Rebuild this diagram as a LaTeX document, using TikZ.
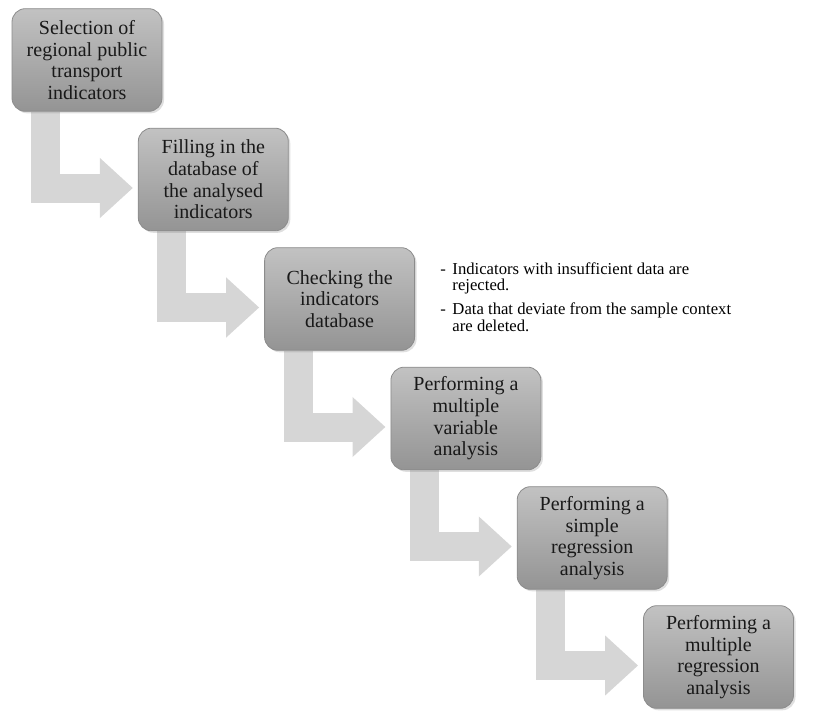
\documentclass[tikz,border=0pt]{standalone}
\usepackage{fontspec}
\setmainfont{Liberation Serif}
\usetikzlibrary{calc, positioning, arrows.meta, shadows, backgrounds}

\begin{document}
\begin{tikzpicture}[
    x=0.75pt, y=-0.75pt,
    font=\fontsize{15}{16.3}\selectfont
]

    % Rounded grey step boxes
    \tikzset{stage/.style={
        draw=black!45,
        line width=0.6pt,
        rounded corners=10pt,
        top color=black!24,
        bottom color=black!42,
        minimum width=112.5pt,
        minimum height=77pt,
        inner sep=2pt,
        align=center,
        text=black!90,
        drop shadow={opacity=0.25, shadow xshift=1.5pt, shadow yshift=-1.5pt}
    }}
    % Light bent block arrows between the steps
    \tikzset{flow/.style={
        draw=black!16,
        line width=21.75pt,
        -{Triangle[length=24.75pt, width=43.5pt]}
    }}

    \useasboundingbox (0,0) rectangle (815,711);

    % Steps, going down to the right
    \node[stage] (S1) at (87, 60)       {Selection of\\regional public\\transport\\indicators};
    \node[stage] (S2) at (213.3, 179.5) {Filling in the\\database of\\the analysed\\indicators};
    \node[stage] (S3) at (339.6, 299)   {Checking the\\indicators\\database};
    \node[stage] (S4) at (465.9, 418.5) {Performing a\\multiple\\variable\\analysis};
    \node[stage] (S5) at (592.2, 538)   {Performing a\\simple\\regression\\analysis};
    \node[stage] (S6) at (718.5, 657)   {Performing a\\multiple\\regression\\analysis};

    % Notes beside the checking step
    \node[anchor=north west, inner sep=0pt, font=\fontsize{12.5}{12.6}\selectfont] (notes) at (440, 262) {%
        \begin{tabular}{@{}l@{\hspace{5pt}}l@{}}
        - & Indicators with insufficient data are\\
          & rejected.\\[5pt]
        - & Data that deviate from the sample context\\
          & are deleted.
        \end{tabular}};

    % Bent arrows (behind the boxes)
    \begin{scope}[on background layer]
        \draw[flow] ($(S1.south west)+(34,0)$) |- ($(S2.west)+(-5,8.5)$);
        \draw[flow] ($(S2.south west)+(34,0)$) |- ($(S3.west)+(-5,8.5)$);
        \draw[flow] ($(S3.south west)+(34,0)$) |- ($(S4.west)+(-5,8.5)$);
        \draw[flow] ($(S4.south west)+(34,0)$) |- ($(S5.west)+(-5,8.5)$);
        \draw[flow] ($(S5.south west)+(34,0)$) |- ($(S6.west)+(-5,8.5)$);
    \end{scope}

\end{tikzpicture}
\end{document}
